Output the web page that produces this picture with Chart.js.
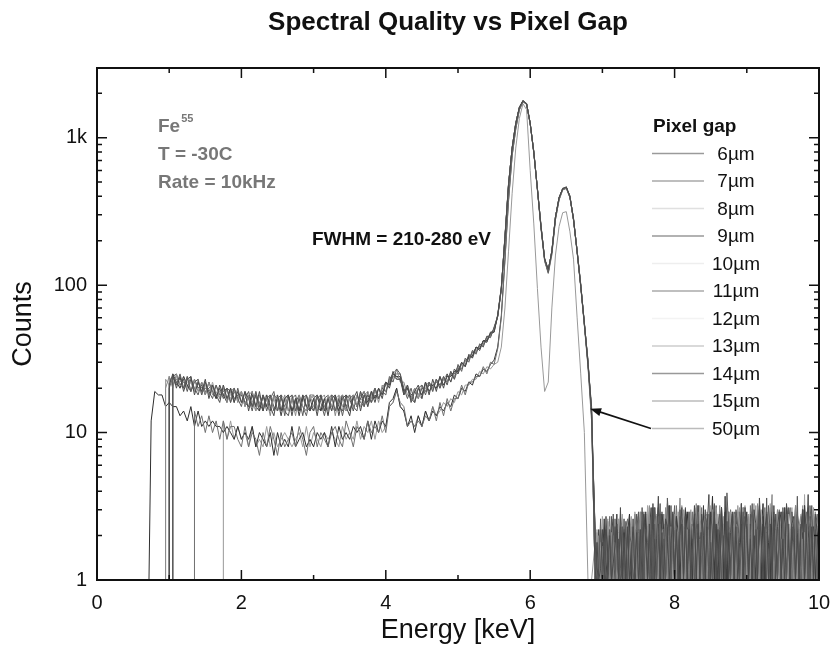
<!DOCTYPE html>
<html>
<head>
<meta charset="utf-8">
<title>Spectral Quality vs Pixel Gap</title>
<script src="https://cdn.jsdelivr.net/npm/chart.js@4.4.1/dist/chart.umd.min.js"></script>
<style>
  html, body { margin: 0; padding: 0; background: #fff; }
  #wrap { width: 832px; height: 658px; }
</style>
</head>
<body>
<div id="wrap"><canvas id="plot" width="832" height="658"></canvas></div>
<script>
// Energia [keV] de cada canal hasta 6.85 (paso 0.05)
const energy = [
  0.70,0.75,0.80,0.85,0.90,0.95,
  1.00,1.05,1.10,1.15,1.20,1.25,1.30,1.35,1.40,1.45,1.50,1.55,1.60,1.65,1.70,1.75,1.80,1.85,1.90,1.95,
  2.00,2.05,2.10,2.15,2.20,2.25,2.30,2.35,2.40,2.45,2.50,2.55,2.60,2.65,2.70,2.75,2.80,2.85,2.90,2.95,
  3.00,3.05,3.10,3.15,3.20,3.25,3.30,3.35,3.40,3.45,3.50,3.55,3.60,3.65,3.70,3.75,3.80,3.85,3.90,3.95,
  4.00,4.05,4.10,4.15,4.20,4.25,4.30,4.35,4.40,4.45,4.50,4.55,4.60,4.65,4.70,4.75,4.80,4.85,4.90,4.95,
  5.00,5.05,5.10,5.15,5.20,5.25,5.30,5.35,5.40,5.45,5.50,5.55,5.60,5.65,5.70,5.75,5.80,5.85,5.90,5.95,
  6.00,6.05,6.10,6.15,6.20,6.25,6.30,6.35,6.40,6.45,6.50,6.55,6.60,6.65,6.70,6.75,6.80,6.85
];

// Energia de la cola de ruido (paso 0.025)
const tailEnergy = [
  6.900,6.925,6.950,6.975,7.000,7.025,7.050,7.075,7.100,7.125,7.150,7.175,7.200,7.225,7.250,7.275,7.300,7.325,7.350,7.375,7.400,7.425,7.450,7.475,7.500,
  7.525,7.550,7.575,7.600,7.625,7.650,7.675,7.700,7.725,7.750,7.775,7.800,7.825,7.850,7.875,7.900,7.925,7.950,7.975,8.000,8.025,8.050,8.075,8.100,8.125,
  8.150,8.175,8.200,8.225,8.250,8.275,8.300,8.325,8.350,8.375,8.400,8.425,8.450,8.475,8.500,8.525,8.550,8.575,8.600,8.625,8.650,8.675,8.700,8.725,8.750,
  8.775,8.800,8.825,8.850,8.875,8.900,8.925,8.950,8.975,9.000,9.025,9.050,9.075,9.100,9.125,9.150,9.175,9.200,9.225,9.250,9.275,9.300,9.325,9.350,9.375,
  9.400,9.425,9.450,9.475,9.500,9.525,9.550,9.575,9.600,9.625,9.650,9.675,9.700,9.725,9.750,9.775,9.800,9.825,9.850,9.875,9.900,9.925,9.950,9.975,10.000
];

const gapLabels = ['6µm','7µm','8µm','9µm','10µm','11µm','12µm','13µm','14µm','15µm','50µm'];

// umbral inferior de cada espectro [keV]
const startKeV = [1.00, 1.05, 0.95, 1.05, 0.95, 1.00, 1.05, 1.35, 0.72, 1.00, 1.75];

// Cuentas por canal (0.70 - 6.85 keV)
const gap6 = [
  null,null,null,null,null,null,
  21,25,20,24,19,23,24,18,22,19,23,17,21,18,16,21,17,20,16,19,
  16,19,14,18,15,19,14,18,15,13,18,14,17,18,13,17,14,18,15,14,
  17,13,18,14,17,14,18,13,17,18,14,17,19,14,18,15,19,16,20,17,
  22,21,26,23,23,18,21,16,19,21,17,22,18,23,19,24,20,25,22,27,
  25,30,28,34,32,38,36,42,41,48,48,63,97,205,470,860,1240,1610,1790,1690,
  1260,790,455,245,152,128,168,288,395,448,465,395,285,168,98,56,29,15
];
const gap7 = [
  null,null,null,null,null,null,
  null,24,21,25,20,24,19,22,23,18,22,19,17,21,18,19,20,16,20,17,
  15,19,17,14,19,15,18,14,17,19,14,18,13,17,18,14,17,13,18,15,
  14,18,16,13,17,18,14,17,13,17,18,15,14,19,15,18,16,20,17,19,
  18,24,22,27,25,20,17,20,16,20,21,18,22,19,23,20,24,21,26,23,
  29,26,32,30,36,34,40,38,45,44,52,61,93,215,490,840,1260,1590,1770,1710,
  1240,810,445,255,148,122,172,292,385,455,458,405,275,172,102,54,31,13
];
const gap8 = [
  null,null,null,null,null,20,
  24,20,25,21,20,24,19,23,19,22,18,22,18,21,17,20,16,19,20,16,
  19,15,18,19,14,18,15,17,13,18,17,14,18,14,17,13,18,15,14,18,
  18,14,17,18,14,18,13,17,18,14,17,18,15,18,19,15,18,20,16,21,
  19,22,25,27,22,22,18,17,20,17,21,19,22,20,23,20,24,22,25,24,
  28,27,31,31,36,35,39,39,44,45,51,62,96,212,475,855,1255,1600,1785,1705,
  1245,805,450,250,151,125,170,290,390,452,460,400,282,170,100,55,30,14
];
const gap9 = [
  null,null,null,null,null,null,
  null,25,22,20,24,21,19,23,20,21,18,22,19,17,21,18,16,20,17,18,
  18,16,15,19,15,14,18,15,14,18,17,13,17,18,14,17,13,17,18,14,
  17,18,14,17,13,18,17,14,18,15,13,18,15,17,19,16,19,17,20,18,
  22,20,25,24,24,19,20,17,16,20,18,22,19,21,20,24,21,24,24,26,
  26,30,28,33,33,38,37,42,42,47,48,62,94,208,485,845,1245,1605,1775,1700,
  1255,795,452,248,150,127,169,289,392,450,462,398,278,169,99,55,30,14
];
const gap10 = [
  null,null,null,null,null,23,
  21,24,21,22,24,20,22,19,23,18,22,18,20,19,17,21,17,18,20,17,
  19,16,17,16,19,15,17,18,14,17,18,15,14,17,18,14,17,15,14,18,
  15,17,18,14,18,15,14,18,15,14,18,15,18,15,18,19,16,19,18,19,
  21,21,24,23,23,19,21,17,20,18,17,21,22,19,23,20,23,25,22,26,
  25,29,30,33,32,37,38,41,41,48,49,63,95,210,480,850,1250,1600,1780,1695,
  1250,800,448,252,149,124,171,291,388,449,459,401,281,171,101,56,30,15
];
const gap11 = [
  null,null,null,null,null,null,
  20,24,25,21,23,19,23,20,18,22,19,20,21,17,20,17,20,19,16,20,
  16,17,19,15,18,14,18,15,18,14,17,18,14,13,17,18,14,18,15,17,
  14,17,18,15,14,17,18,15,14,18,17,14,18,16,15,19,16,18,17,20,
  19,23,25,24,23,19,20,18,19,17,20,19,21,21,22,21,23,22,25,25,
  28,27,31,32,35,35,39,39,45,45,51,62,95,212,478,852,1252,1598,1782,1702,
  1248,802,449,251,150,126,170,290,391,451,461,400,280,170,100,55,30,14
];
const gap12 = [
  null,null,null,null,null,null,
  null,21,24,20,23,22,22,19,22,19,21,18,22,18,19,18,19,17,20,16,
  19,16,17,16,14,18,15,18,15,17,14,18,17,14,18,15,14,17,15,18,
  17,14,17,16,17,14,17,18,15,17,14,17,16,17,16,18,17,19,17,20,
  21,22,25,24,24,19,21,18,19,18,20,19,22,20,22,21,24,22,25,24,
  26,29,29,33,34,36,39,40,43,47,50,62,95,210,480,850,1250,1600,1780,1700,
  1250,800,450,250,150,125,170,290,390,450,460,400,280,170,100,55,30,14
];
const gap13 = [
  null,null,null,null,null,null,
  null,null,null,null,null,null,null,14,11,13,10,13,10,12,9,12,9,11,11,9,
  8,11,8,10,9,7,10,8,11,9,7,10,8,9,10,8,11,9,7,10,
  11,8,10,9,8,10,11,9,8,12,10,8,11,10,9,12,10,11,10,13,
  10,15,16,19,16,15,11,12,11,12,11,13,12,15,12,16,13,17,14,17,
  17,21,18,22,22,24,24,28,25,30,29,37,60,145,370,750,1140,1540,1750,1680,
  1235,785,445,240,145,120,160,278,378,442,452,392,275,165,97,53,28,12
];
const gap14 = [
  null,12,19,18,18,15,
  16,15,15,13,14,12,15,11,14,11,12,11,12,11,11,10,11,10,9,11,
  9,10,9,11,8,10,9,8,10,7,10,8,9,8,11,8,9,10,8,9,
  8,10,9,10,8,11,8,11,9,10,9,11,10,11,9,12,9,12,10,12,
  11,16,17,20,15,14,11,13,10,13,11,14,12,14,13,15,14,16,15,18,
  17,20,19,22,21,25,24,27,26,29,31,38,62,150,380,760,1150,1550,1760,1690,
  1240,790,440,245,148,122,165,280,380,445,455,395,278,168,99,54,29,13
];
const gap15 = [
  null,null,null,null,null,null,
  24,21,23,23,22,20,24,19,22,20,20,19,21,18,19,18,20,16,19,17,
  19,15,18,15,18,16,14,17,18,15,14,17,15,18,14,16,18,15,13,17,
  18,15,14,17,18,15,14,16,18,15,17,18,15,19,16,17,17,20,17,20,
  22,21,24,25,25,18,20,17,20,18,20,20,21,20,23,21,23,22,26,23,
  27,29,29,32,33,38,37,42,42,46,50,61,96,208,482,848,1248,1602,1778,1698,
  1252,798,451,249,151,124,171,291,389,451,459,399,279,171,99,55,31,14
];
const gap50 = [
  null,null,null,null,null,null,
  null,null,null,null,null,null,null,null,null,null,null,null,null,null,null,12,9,12,9,11,
  9,10,8,11,8,9,8,11,8,10,8,9,10,9,8,9,10,8,11,8,
  10,9,8,10,9,10,9,8,11,9,10,9,12,9,11,10,12,9,12,10,
  11,15,16,20,15,14,11,12,11,13,11,14,12,15,13,14,16,15,17,16,
  19,18,21,21,23,23,26,25,28,27,29,30,38,70,170,420,850,1350,1700,1550,
  600,260,95,38,19,22,70,160,250,310,315,230,150,60,25,10,1,1
];

// Cuentas en la cola (6.90 - 10.00 keV)
const tail6 = [
  1,1.8,1,1.2,2.2,1,2.7,1,2,1,1.3,1.7,2.4,1,3.1,1,1.9,1,2.3,1,1.2,2.6,1,2.1,1,
  2.2,1,2.8,1.8,1,2.4,1,3.3,1,1.9,3.7,1,2.1,1,2.6,2.3,1,1.7,2.9,1,2.2,1,2,3.1,1,
  2.7,1,2.2,1,1.8,3.2,1,2.4,1,2.8,2,1,2.3,3.8,1,1.9,2.9,1,2.2,1,3.1,1.8,1,2.5,1,
  2.1,2.9,1,2.3,1,1.8,3.3,1,2.7,2.2,1,1.9,1,3,2.4,1,3.6,2,1,2.2,2.8,1,2.4,1,3.2,
  1,2.3,2.9,1,1.9,1,3.3,2.1,1,2.4,2.7,1,2,1,2.2,3,1,1.8,3.8,1,2.3,1,2.8,2.1,1.7
];
const tail7 = [
  2.1,1,1.2,2.6,1,1.8,1,1.3,2.2,1,2.8,1,1.9,1,1.2,2.3,1,2.5,1,2,1.8,1,1.3,2.2,2.9,
  1,3.1,1,2.2,1.8,1,2.7,1,2.4,1,2,3.3,1,1.9,1,3.6,2.2,1,2.8,1,2.3,1,3,1.8,1,
  2.3,1,2.9,1,1.9,1,2.2,3.2,1,2.1,1,2.7,2.4,1,1.8,1,3.1,1,2.3,2.8,1,2,1,3.9,2.2,
  1,2.1,1,3,2.3,1,1.8,2.9,1,2.4,1,2,3.3,1,2.2,1,2.7,1.9,1,2.3,1,3.2,2.1,1,2.4,
  2.8,1,2.2,1,3.1,1.9,1,2.4,1,2.9,2.2,1,3.7,1,2.1,3,1,2.3,1,1.9,3.2,1,2.2,1,2.7
];
const tail8 = [
  1,1.2,2,1,1.7,1,1.3,2.5,1,2.1,1,1.8,1,1.2,2.7,2.2,1,1.9,1,1.3,2.3,1,2.8,1,2.1,
  2.9,1,2.3,1,1.9,3.2,1,2.2,1,2.7,1,2.4,1.8,1,3.1,1,2,1,2.3,2.8,1,2.1,3.6,1,2.3,
  1,2.2,1,2.9,2.1,1,3.3,1,1.9,1,2.4,2.7,1,2.2,1,3,2.3,1,1.8,3.2,1,2.4,1,2.1,2.9,
  2.3,1,2.8,1,2.1,1.8,1,3.1,2.4,1,2.7,1,2.2,1,1.9,3.3,1,2.3,1,2.9,2.1,1,2.4,3.8,1,
  2.2,3,1,1.9,1,2.4,2.8,1,2.2,1.8,1,3.2,1,2.3,2.7,1,2.1,1,3.1,2.3,1,1.9,2.9,1,2.2
];
const tail9 = [
  1.9,1,2.2,1,1.3,2.6,1,2,1,1.8,1,1.2,2.8,1,2.3,1,2.1,1.7,1,2.7,1,1.3,2.2,1,2,
  1,2.3,1,2.9,1,2.1,3.1,1,1.9,1,2.4,1,2.8,2.2,1,1.8,3.2,1,2.3,1,2.7,2.1,1,2.4,1,
  3,2.2,1,2.4,1,2.8,1,2.1,1.8,1,3.2,1,2.3,1,2.9,2,1,2.4,1,2.2,3.1,1,3.7,1,2.1,
  1,2.8,2.3,1,1.9,1,3.3,1,2.2,2.9,1,2.4,1,2,1,3,2.2,1,2.7,1,2.3,1.8,1,3.2,1,
  2.2,1,2.4,2.9,1,3.1,1,2,1,2.3,1,2.8,2.1,1,2.4,1,3.2,1,1.9,2.7,1,2.3,1,2.1,1
];
const tail10 = [
  1,2.1,1,1.8,1,1.2,2.2,2.6,1,1.3,2,1,1.9,1,2.8,1,1.2,2.3,1,2,2.7,1,2.2,1,1.2,
  2.3,2.8,1,2.1,1,3.1,1.9,1,2.4,1,2.7,1,2.2,1,2,3.3,1,2.3,1,1.8,1,2.9,2.2,1,3,
  1,2.2,2.9,1,2.3,1,1.9,1,3.2,2.1,1,2.4,2.8,1,2.2,1,2,3.1,1,2.3,1,2.7,1,2.1,1,
  2.9,1,2.3,1,3.2,2.2,1,1.9,1,2.4,2.8,1,2.1,3.3,1,2.2,1,2.4,1,2.7,1,2.2,3.1,1,2.3,
  1,3,2.2,1,2.4,1,2,2.8,1,2.3,1,1.9,3.2,1,2.2,1,2.4,1,2.9,2.1,1,3.1,1,2.3,2.7
];
const tail11 = [
  2,1,1.3,2.2,1,1.8,1,2.1,1,2.7,1,2.3,1,1.9,1,1.2,2.6,1,2.2,1,1.8,1,2.3,2.8,1,
  2.2,1,2.4,2.8,1,2,1,2.3,3.1,1,1.9,1,2.9,1,2.4,1.8,1,3.2,1,2.2,2.7,1,2.3,1,2.1,
  3.1,1,2.2,1,2.4,1,2.8,2.1,1,2.3,1,3,1,2.2,1.8,1,3.3,2.3,1,2,1,2.4,2.9,1,2.2,
  1,2.3,2.9,1,2.1,1,2.4,1,3.1,2.2,1,2.8,1,2.3,1,1.9,3.2,1,2.4,1,3.6,1,2.2,2.9,1,
  2.3,1,2.1,1,2.9,1,2.4,3.1,1,2.2,1.8,1,2.8,1,2.3,1,3.2,2.1,1,2.4,1,2.7,2.2,1,2.3
];
const tail12 = [
  1,2.2,1,1.2,2.7,1,1.9,1,2.3,1,1.8,1,1.3,2.1,1,2.8,1,2.2,1,1.9,1,1.2,2.9,2.1,1,
  2.9,1,2.3,1,3.2,1,2.1,1.8,1,2.8,1,2.4,1,2.2,1,3.1,2.3,1,2,1,2.7,1,2.4,1.9,1,
  2.2,1,2.4,3,1,2.1,1,2.9,1,2.3,1,2,1.8,1,3.2,1,2.2,1,2.8,2.3,1,2.1,1,3.1,1,
  2.1,1,2.8,2.3,1,2.2,1,1.9,3.2,1,2.4,1,2.9,1,2.1,1,2.3,3,1,2.2,1.8,1,3.3,1,2.2,
  1,2.3,1,2.9,2.1,1,2.4,1,2.2,3.1,1,1.9,1,2.3,2.8,1,3.8,1,2.2,1,3,2.3,1,2.1,1
];
const tail13 = [
  2.1,1,1.9,1,1.2,2.2,1,1.3,2.7,1,2,1,2.2,1,1.2,1.9,1,2.3,2.6,1,1.3,2.1,1,2.2,1,
  1,2.2,2.9,1,2.3,1,2,1,3.1,2.2,1,2.4,1,2.8,1,2.1,1,2.3,1.8,1,3.2,2,1,2.4,2.7,
  2.3,1,2.1,1,2.9,1,2.4,1,2.2,3.1,1,2,1,2.8,1,2.3,3.2,1,2.1,1,2.4,1,2.7,2.2,1,
  3,2.2,1,2.4,1,2.9,1,2.1,1,2.3,1,3.2,1.9,1,2.4,2.8,1,2.2,1,3.1,1,2.3,1,2,2.9,
  1,2.2,3,1,2.4,1,2.8,1,2.1,1,2.3,3.2,1,2.2,1,1.9,1,2.9,2.3,1,2.1,2.7,1,2.4,1.8
];
const tail14 = [
  1,1.2,2,1,1.8,1,2.2,1,1.3,2.1,2.6,1,1.2,1.9,1,2.3,1,1.3,2.1,2.8,1,2,1,1.2,2.2,
  1,2.9,2.1,1,2.3,1,1.9,3.1,1,2.2,1,2.8,1,2.4,1,2.1,3.2,1,2.2,1,2,1,2.7,1,2.3,
  2.2,2.9,1,2.4,1,2.1,1,3.2,2.2,1,2.3,1,2.8,1,2.1,3.7,1,2.3,1,1.9,3.1,1,2.2,1,2.9,
  1,2.3,1,2.1,2.9,1,2.4,1,3.1,1,2.2,1.8,1,2.8,1,2.3,1,2.1,3.3,1,2.2,1,2.4,2.9,1,
  2.8,1,2.3,1,2.1,1,3.2,2.2,1,2.4,1,2.9,1,2.2,1,3,2.1,1,2.3,1,2.2,2.8,1,2.4,1
];
const tail15 = [
  1,2,1,1.8,1,1.3,1,2.2,1,1.9,1,2.6,1,2.1,1,1.2,2.2,1,1.3,2,1,2.3,1,2.7,1,
  2.1,1,2.3,1,2.8,2.2,1,2.4,1,1.9,3.1,1,2.2,1,2.3,1,2.9,1,2.1,3.2,1,2.3,1,2.1,1,
  1,2.8,1,2.2,1,2.4,3.1,1,2.1,1,2.9,2.3,1,2.2,1,2.4,1,3.2,2.1,1,2.3,1,2.7,1,2.2,
  2.3,1,2.1,2.9,1,2.4,1,3.1,2.2,1,2.3,1,2,2.8,1,2.2,3.2,1,2.4,1,2.9,2.1,1,2.3,1,
  2.2,1,2.9,2.1,1,2.3,1,2.4,3.1,1,2.2,1,2.8,2.3,1,2.1,1,2.4,1,3.2,2.2,1,2.3,2.8,1
];
const tail50 = [
  1.8,1,1.2,2.1,1,1.9,1,1.3,2.2,1,1.2,2,1,2.6,1,2.2,1,1.8,1,1.3,2.3,1,2,1,2.8,
  1,2.2,1,2.4,1,2.9,1,2.1,1.8,1,3.1,1,2.3,1,2.8,1,2.2,1,2.4,3,1,2.1,1,3.2,2.2,
  1,2.3,2.8,1,2.2,1,2.4,3.1,1,2.1,1.8,1,2.9,1,2.3,1,3.2,2.2,1,2.4,1,2.1,2.8,1,2.3,
  2.9,1,2.2,1,2.4,3.1,1,2.1,1,2.8,1,2.3,1,2.2,3.2,1,2.4,1,2,1,2.9,2.2,1,3,1,
  2.3,2.8,1,2.2,1,3.1,2.1,1,2.4,1,2.2,1,2.9,1,2.3,3.2,1,2.1,1,2.4,1,2.8,2.2,1,2.3
];

const mainSeries = [gap6, gap7, gap8, gap9, gap10, gap11, gap12, gap13, gap14, gap15, gap50];
const tailSeries = [tail6, tail7, tail8, tail9, tail10, tail11, tail12, tail13, tail14, tail15, tail50];

// colores de trazo y de la muestra de leyenda
const lineGray = ['#4a4a4a','#5a5a5a','#8a8a8a','#3c3c3c','#9a9a9a','#555555','#a4a4a4','#707070','#2e2e2e','#606060','#999999'];
const keyGray  = ['#9a9a9a','#a8a8a8','#e0e0e0','#999999','#eeeeee','#aaaaaa','#f3f3f3','#cccccc','#999999','#bbbbbb','#bbbbbb'];

const yTicks = [1, 10, 100, 1000];
const xTicks = [0, 2, 4, 6, 8, 10];

const FONT = "'Liberation Sans', Arial, Helvetica, sans-serif";

let datasets = gapLabels.map((lab, k) => {
  let pts = [{x: startKeV[k], y: 1}];
  energy.forEach((e, i) => {
    let v = mainSeries[k][i];
    if (v !== null) pts.push({x: e, y: v});
  });
  tailEnergy.forEach((e, i) => pts.push({x: e, y: tailSeries[k][i]}));
  return {
    label: lab,
    data: pts,
    borderColor: lineGray[k],
    borderWidth: 1,
    pointRadius: 0,
    tension: 0,
    fill: false
  };
});

// marco, marcas hacia dentro, textos y leyenda
const decor = {
  id: 'decor',
  afterDraw(chart) {
    const {ctx, chartArea: a, scales} = chart;
    const xs = scales.x, ys = scales.y;
    ctx.save();

    ctx.strokeStyle = '#111';
    ctx.lineWidth = 2;
    ctx.strokeRect(a.left, a.top, a.right - a.left, a.bottom - a.top);

    ctx.lineWidth = 1.5;
    ctx.beginPath();
    for (let v = 0; v <= 10; v++) {
      let px = xs.getPixelForValue(v);
      let len = v % 2 === 0 ? 10 : 5;
      ctx.moveTo(px, a.bottom); ctx.lineTo(px, a.bottom - len);
      ctx.moveTo(px, a.top); ctx.lineTo(px, a.top + len);
    }
    yTicks.forEach(d => {
      for (let m = 1; m <= 9; m++) {
        let v = d * m;
        if (v > ys.max) break;
        let py = ys.getPixelForValue(v);
        let len = m === 1 ? 10 : 5;
        ctx.moveTo(a.left, py); ctx.lineTo(a.left + len, py);
        ctx.moveTo(a.right, py); ctx.lineTo(a.right - len, py);
      }
    });
    ctx.stroke();

    // titulo
    ctx.fillStyle = '#111';
    ctx.textBaseline = 'middle';
    ctx.textAlign = 'center';
    ctx.font = 'bold 26px ' + FONT;
    ctx.fillText('Spectral Quality vs Pixel Gap', 448, 23);

    // condiciones de medida
    ctx.textAlign = 'left';
    ctx.fillStyle = '#777';
    ctx.font = 'bold 19px ' + FONT;
    ctx.fillText('Fe', 158, 127);
    let feW = ctx.measureText('Fe').width;
    ctx.font = 'bold 11px ' + FONT;
    ctx.fillText('55', 158 + feW + 1, 119);
    ctx.font = 'bold 19px ' + FONT;
    ctx.fillText('T = -30C', 158, 155);
    ctx.fillText('Rate = 10kHz', 158, 183);

    ctx.fillStyle = '#111';
    ctx.fillText('FWHM = 210-280 eV', 312, 240);

    // leyenda
    ctx.fillText('Pixel gap', 653, 127);
    ctx.font = '19px ' + FONT;
    ctx.textAlign = 'center';
    gapLabels.forEach((lab, k) => {
      let ry = 153.5 + 27.5 * k;
      ctx.strokeStyle = keyGray[k];
      ctx.lineWidth = 1.5;
      ctx.beginPath();
      ctx.moveTo(652, ry); ctx.lineTo(704, ry);
      ctx.stroke();
      ctx.fillStyle = '#111';
      ctx.fillText(lab, 736, ry + 1);
    });

    // flecha hacia el flanco del pico
    let tipX = xs.getPixelForValue(6.83), tipY = ys.getPixelForValue(14.5);
    let tailX = 651, tailY = 153.5 + 27.5 * 10;
    let ang = Math.atan2(tipY - tailY, tipX - tailX);
    ctx.strokeStyle = '#111';
    ctx.fillStyle = '#111';
    ctx.lineWidth = 1.6;
    ctx.beginPath();
    ctx.moveTo(tailX, tailY);
    ctx.lineTo(tipX - 6 * Math.cos(ang), tipY - 6 * Math.sin(ang));
    ctx.stroke();
    ctx.beginPath();
    ctx.moveTo(tipX, tipY);
    ctx.lineTo(tipX - 11 * Math.cos(ang) + 4 * Math.sin(ang), tipY - 11 * Math.sin(ang) - 4 * Math.cos(ang));
    ctx.lineTo(tipX - 11 * Math.cos(ang) - 4 * Math.sin(ang), tipY - 11 * Math.sin(ang) + 4 * Math.cos(ang));
    ctx.closePath();
    ctx.fill();

    ctx.restore();
  }
};

let plotRef = document.getElementById('plot');

let config = {
  type: 'line',
  data: { datasets: datasets },
  options: {
    responsive: false,
    animation: false,
    events: [],
    layout: { padding: { top: 68, right: 13, left: 0, bottom: 0 } },
    plugins: {
      legend: { display: false },
      tooltip: { enabled: false },
      title: { display: false }
    },
    scales: {
      x: {
        type: 'linear',
        min: 0,
        max: 10,
        afterBuildTicks: s => { s.ticks = xTicks.map(v => ({value: v})); },
        afterFit: s => { s.height = 78; s.paddingLeft = 0; s.paddingRight = 0; },
        grid: { display: false, drawTicks: false },
        border: { display: false },
        ticks: { color: '#111', font: { family: FONT, size: 20 }, padding: 11, maxRotation: 0 },
        title: { display: true, text: 'Energy [keV]', color: '#111', font: { family: FONT, size: 27 }, padding: { top: 0, bottom: 11 } }
      },
      y: {
        type: 'logarithmic',
        min: 1,
        max: 2970,
        afterBuildTicks: s => { s.ticks = yTicks.map(v => ({value: v})); },
        afterFit: s => { s.width = 97; s.paddingTop = 0; s.paddingBottom = 0; },
        grid: { display: false, drawTicks: false },
        border: { display: false },
        ticks: {
          color: '#111',
          font: { family: FONT, size: 20 },
          padding: 10,
          callback: v => (v === 1000 ? '1k' : String(v))
        },
        title: { display: true, text: 'Counts', color: '#111', font: { family: FONT, size: 27 }, padding: { top: 7, bottom: 0 } }
      }
    }
  },
  plugins: [decor]
};

let chart1 = new Chart(plotRef, config);
</script>
</body>
</html>
